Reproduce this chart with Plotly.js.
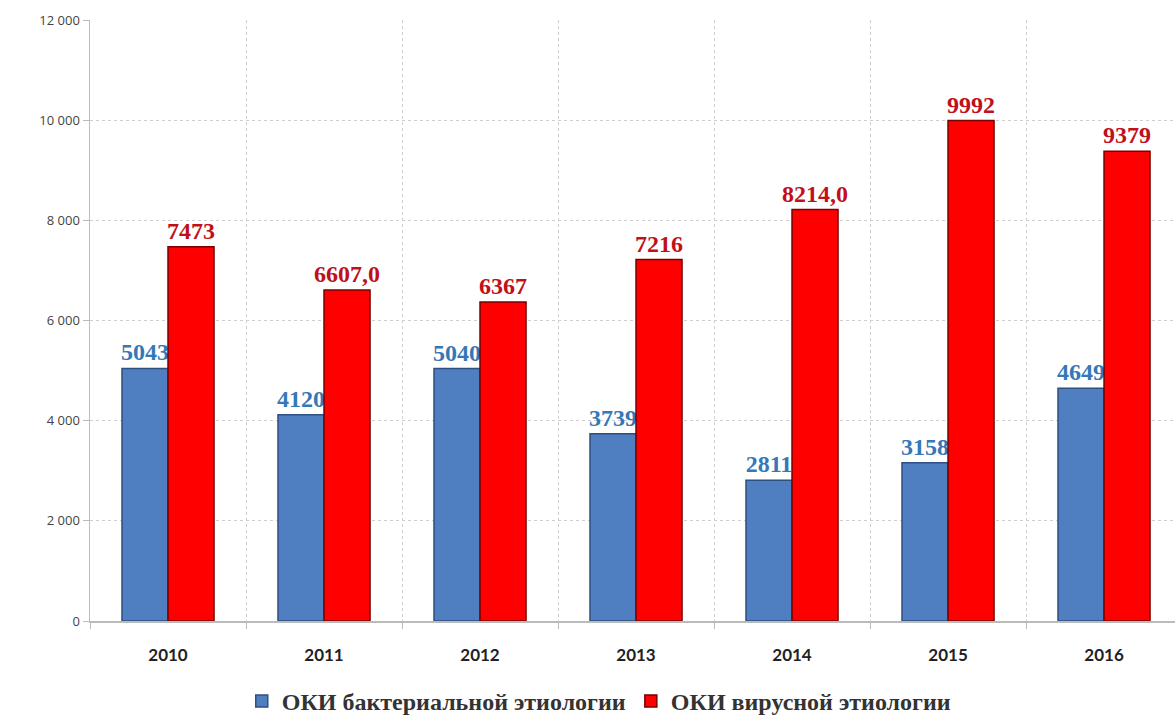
<!DOCTYPE html>
<html>
<head>
<meta charset="utf-8">
<script src="https://cdn.plot.ly/plotly-3.0.1.min.js"></script>
<style>html,body{margin:0;padding:0;background:#fff;}#chart{width:1175px;height:724px;}</style>
</head>
<body>
<div id="chart"></div>
<script>
const years = ["2010","2011","2012","2013","2014","2015","2016"];
const bacterial = [5043, 4120, 5040, 3739, 2811, 3158, 4649];
const viral = [7473, 6607, 6367, 7216, 8214, 9992, 9379];
const bacterialLabels = ["5043","4120","5040","3739","2811","3158","4649"];
const viralLabels = ["7473","6607,0","6367","7216","8214,0","9992","9379"];
const yTicks = [0, 2000, 4000, 6000, 8000, 10000, 12000];
const yTickLabels = ["0","2 000","4 000","6 000","8 000","10 000","12 000"];

const labelFont = {family: "Liberation Serif, Times New Roman, serif", size: 24, weight: 700};

const traces = [
  {
    type: "bar", name: "ОКИ бактериальной этиологии",
    x: years, y: bacterial, text: bacterialLabels,
    textposition: "outside", cliponaxis: false, constraintext: "none",
    textfont: Object.assign({color: "#3478B8"}, labelFont),
    marker: {color: "#4F7FC0", line: {color: "#2F4F80", width: 1.5}},
    hoverinfo: "x+y"
  },
  {
    type: "bar", name: "ОКИ вирусной этиологии",
    x: years, y: viral, text: viralLabels,
    textposition: "outside", cliponaxis: false, constraintext: "none",
    textfont: Object.assign({color: "#C0101A"}, labelFont),
    marker: {color: "#FF0000", line: {color: "#7A0000", width: 1.5}},
    hoverinfo: "x+y"
  }
];

const layout = {
  width: 1175, height: 724,
  margin: {l: 90, r: 0, t: 20, b: 103},
  paper_bgcolor: "#fff", plot_bgcolor: "#fff",
  barmode: "group", bargap: 0.41, bargroupgap: 0,
  separators: ", ",
  showlegend: true,
  legend: {
    orientation: "h", xref: "container", yref: "container",
    x: 0.51, xanchor: "center", y: 0.0, yanchor: "bottom",
    font: {family: "Liberation Serif, Times New Roman, serif", size: 24, color: "#333", weight: 700},
    itemwidth: 30, tracegroupgap: 0
  },
  xaxis: {
    type: "category", range: [-0.5, 6.455],
    tickson: "boundaries", ticks: "outside", ticklen: 6, tickcolor: "#bbb",
    ticklabelstandoff: 18,
    showgrid: true, griddash: "dot", gridcolor: "#cfcfcf", gridwidth: 1,
    showline: true, linecolor: "#bbb", linewidth: 1.5,
    tickfont: {family: "Lato, Open Sans, sans-serif", size: 17, color: "#222", weight: 700}
  },
  yaxis: {
    range: [0, 12000], tickvals: yTicks, ticktext: yTickLabels,
    ticks: "outside", ticklen: 6, tickcolor: "#bbb",
    showgrid: true, griddash: "dot", gridcolor: "#cfcfcf", gridwidth: 1,
    showline: true, linecolor: "#bbb", linewidth: 1.5, zeroline: false,
    tickfont: {family: "Open Sans, sans-serif", size: 13, color: "#444"}
  }
};

Plotly.newPlot("chart", traces, layout, {displayModeBar: false, staticPlot: true});
</script>
</body>
</html>
